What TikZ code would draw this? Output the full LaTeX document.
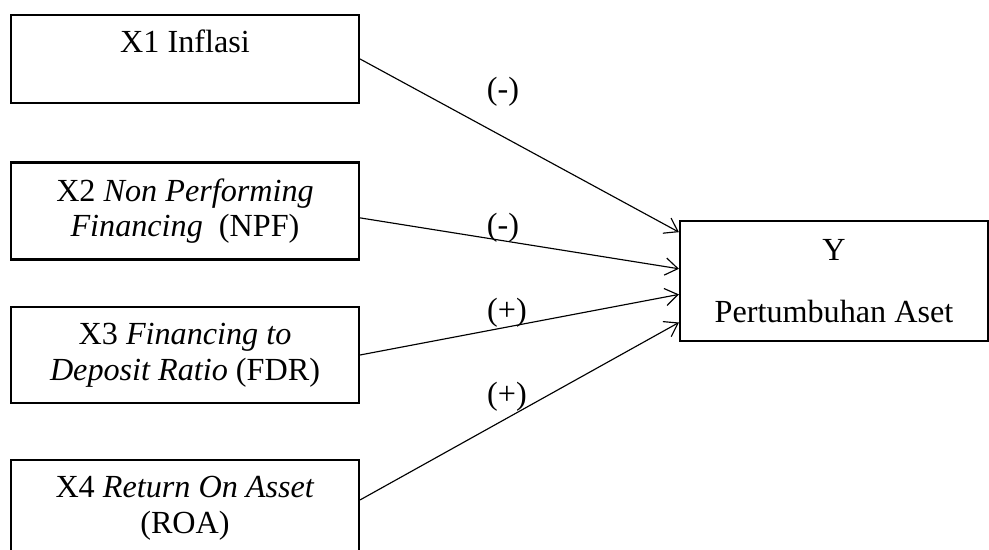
\documentclass[tikz,border=0pt]{standalone}
\usepackage{fontspec}
\setmainfont{Liberation Serif}
\usepackage{tikz}
\usetikzlibrary{arrows.meta, positioning, calc}

\begin{document}
\begin{tikzpicture}[x=0.435pt, y=-0.435pt,
    varbox/.style={draw, line width=0.9pt, rectangle, minimum width=151.4pt,
        align=center, inner sep=0pt, font=\fontsize{14}{15.5}\selectfont},
    arr/.style={line width=0.5pt, -{Straight Barb[length=5.5pt, width=7.5pt]}},
    sign/.style={font=\fontsize{14}{15}\selectfont, inner sep=0pt}]
    \clip (0,0) rectangle (989,550);

    % variabel bebas
    \node[varbox, minimum height=38.3pt] (x1) at (185,59) {X1 Inflasi\\ \mbox{}};
    \node[varbox, minimum height=42.2pt] (x2) at (185,211)
        {X2 \textit{Non Performing}\\ \textit{Financing}\ \ (NPF)};
    \node[varbox, minimum height=41.8pt] (x3) at (185,355)
        {X3 \textit{Financing to}\\ \textit{Deposit Ratio} (FDR)};
    \node[varbox, minimum height=41.8pt] (x4) at (185,508)
        {X4 \textit{Return On Asset}\\ (ROA)};

    % variabel terikat
    \node[varbox, minimum width=134pt, minimum height=52.2pt] (y) at (834,281)
        {Y\\[11.5pt] Pertumbuhan Aset};

    \draw[arr] (x1.east) -- ($(y.north west)!0.1!(y.south west)$);
    \draw[arr] ([yshift=-3pt]x2.east) -- ($(y.north west)!0.4!(y.south west)$);
    \draw[arr] (x3.east) -- ($(y.north west)!0.61!(y.south west)$);
    \draw[arr] ([yshift=3.5pt]x4.east) -- ($(y.north west)!0.84!(y.south west)$);

    \node[sign] (s1) at (503,92) {(-)};
    \node[sign] (s2) at (503,228) {(-)};
    \node[sign] (s3) at (507,313) {(+)};
    \node[sign] (s4) at (507,397) {(+)};
\end{tikzpicture}
\end{document}
